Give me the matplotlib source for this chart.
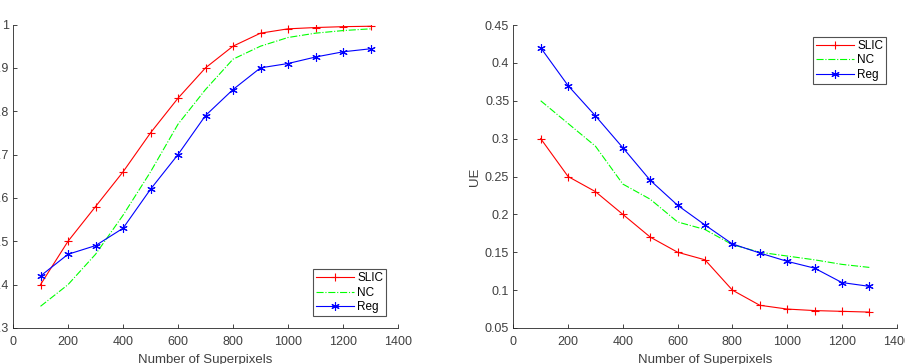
import matplotlib
matplotlib.use("Agg")
import matplotlib.pyplot as plt

plt.rcParams['font.family'] = ['Liberation Sans', 'DejaVu Sans']

superpixels = [100, 200, 300, 400, 500, 600, 700, 800, 900, 1000, 1100, 1200, 1300]

asa_slic = [0.40, 0.50, 0.58, 0.66, 0.75, 0.83, 0.90, 0.95, 0.98, 0.99, 0.993, 0.995, 0.996]
asa_nc = [0.35, 0.40, 0.47, 0.56, 0.66, 0.77, 0.85, 0.92, 0.95, 0.97, 0.98, 0.986, 0.99]
asa_reg = [0.42, 0.47, 0.49, 0.53, 0.62, 0.70, 0.79, 0.85, 0.90, 0.91, 0.925, 0.937, 0.944]

ue_slic = [0.30, 0.25, 0.23, 0.20, 0.17, 0.15, 0.14, 0.10, 0.08, 0.075, 0.073, 0.072, 0.071]
ue_nc = [0.35, 0.32, 0.29, 0.24, 0.22, 0.19, 0.18, 0.16, 0.15, 0.145, 0.14, 0.134, 0.13]
ue_reg = [0.42, 0.37, 0.33, 0.288, 0.245, 0.212, 0.186, 0.161, 0.149, 0.138, 0.129, 0.11, 0.105]

series_names = ['SLIC', 'NC', 'Reg']
xticks = [0, 200, 400, 600, 800, 1000, 1200, 1400]
asa_yticks = [0.3, 0.4, 0.5, 0.6, 0.7, 0.8, 0.9, 1.0]
asa_yticklabels = ['0.3', '0.4', '0.5', '0.6', '0.7', '0.8', '0.9', '1']
ue_yticks = [0.05, 0.1, 0.15, 0.2, 0.25, 0.3, 0.35, 0.4, 0.45]
ue_yticklabels = ['0.05', '0.1', '0.15', '0.2', '0.25', '0.3', '0.35', '0.4', '0.45']

W, H = 905, 364
fig = plt.figure(figsize=(W / 100, H / 100), dpi=100)

asterisk = (6, 2, 0)
axcol = '#262626'
txtcol = '#404040'

def style(ax):
    for s in ['top', 'right']:
        ax.spines[s].set_visible(False)
    for s in ['left', 'bottom']:
        ax.spines[s].set_color(axcol)
        ax.spines[s].set_linewidth(0.6)
    ax.tick_params(axis='both', direction='in', length=3, width=0.6,
                   colors=axcol, labelsize=9, labelcolor=txtcol)
    ax.tick_params(axis='x', pad=6)
    ax.tick_params(axis='y', pad=3)

# Left axes
ax1 = fig.add_axes([13 / W, 1 - 328 / H, (398 - 13) / W, (328 - 24.5) / H])
ax1.plot(superpixels, asa_slic, color='red', lw=0.8, marker='+', ms=6, mew=0.8, label=series_names[0])
ax1.plot(superpixels, asa_nc, color='#00ff00', lw=0.8, ls='-.', label=series_names[1])
ax1.plot(superpixels, asa_reg, color='blue', lw=0.8, marker=asterisk, ms=6, mew=0.8, label=series_names[2])
ax1.set_xlim(0, 1400)
ax1.set_ylim(0.3, 1.0)
ax1.set_xticks(xticks)
ax1.set_yticks(asa_yticks)
ax1.set_yticklabels(asa_yticklabels)
ax1.set_xlabel('Number of Superpixels', fontsize=9.5, color=txtcol, labelpad=4)
style(ax1)
leg1 = ax1.legend(loc='lower right', bbox_to_anchor=(386 / W, 1 - 316 / H), bbox_transform=fig.transFigure,
                  fontsize=8.5, frameon=True, fancybox=False, handlelength=3.2, handletextpad=0.3,
                  borderpad=0.25, labelspacing=0.2, borderaxespad=0)
leg1.get_frame().set_edgecolor(axcol)
leg1.get_frame().set_linewidth(0.8)

# Right axes
ax2 = fig.add_axes([513.3 / W, 1 - 328 / H, (896.7 - 513.3) / W, (328 - 25) / H])
ax2.plot(superpixels, ue_slic, color='red', lw=0.8, marker='+', ms=6, mew=0.8, label=series_names[0])
ax2.plot(superpixels, ue_nc, color='#00ff00', lw=0.8, ls='-.', label=series_names[1])
ax2.plot(superpixels, ue_reg, color='blue', lw=0.8, marker=asterisk, ms=6, mew=0.8, label=series_names[2])
ax2.set_xlim(0, 1400)
ax2.set_ylim(0.05, 0.45)
ax2.set_xticks(xticks)
ax2.set_yticks(ue_yticks)
ax2.set_yticklabels(ue_yticklabels)
ax2.set_xlabel('Number of Superpixels', fontsize=9.5, color=txtcol, labelpad=4)
ax2.set_ylabel('UE', fontsize=9.5, color=txtcol, labelpad=3)
style(ax2)
leg2 = ax2.legend(loc='upper right', bbox_to_anchor=(886 / W, 1 - 37 / H), bbox_transform=fig.transFigure,
                  fontsize=8.5, frameon=True, fancybox=False, handlelength=3.2, handletextpad=0.3,
                  borderpad=0.25, labelspacing=0.2, borderaxespad=0)
leg2.get_frame().set_edgecolor(axcol)
leg2.get_frame().set_linewidth(0.8)

fig.savefig('out.png', dpi=100)
